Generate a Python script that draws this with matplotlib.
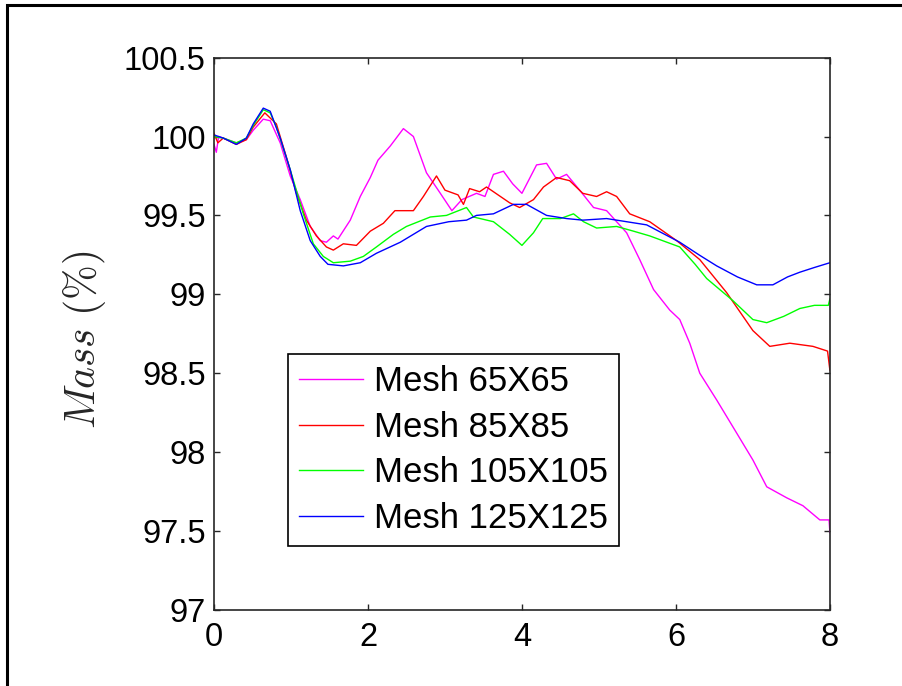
import matplotlib
matplotlib.use('Agg')
import matplotlib.pyplot as plt
from matplotlib.patches import Rectangle

plt.rcParams['font.family'] = ['Liberation Sans', 'DejaVu Sans']
plt.rcParams['mathtext.fontset'] = 'cm'

# Mass (%) over time for each mesh
t_65 = [0, 0.03, 0.06, 0.12, 0.29, 0.42, 0.51, 0.64, 0.73, 0.86, 0.99, 1.12, 1.25, 1.38, 1.46,
        1.55, 1.61, 1.77, 1.90, 2.03, 2.13, 2.29, 2.46, 2.59, 2.76, 2.94, 3.09, 3.22, 3.41, 3.52,
        3.63, 3.76, 3.88, 4.00, 4.19, 4.32, 4.45, 4.58, 4.75, 4.93, 5.10, 5.36, 5.53, 5.71, 5.92,
        6.05, 6.18, 6.31, 6.53, 6.79, 7.00, 7.18, 7.44, 7.65, 7.87, 7.99, 8.0]
m_65 = [99.95, 99.90, 100.0, 99.99, 99.96, 99.98, 100.04, 100.11, 100.10, 99.96, 99.75, 99.60, 99.43,
        99.34, 99.33, 99.37, 99.35, 99.47, 99.62, 99.74, 99.85, 99.94, 100.05, 100.0, 99.77, 99.64,
        99.53, 99.60, 99.64, 99.62, 99.76, 99.78, 99.70, 99.64, 99.82, 99.83, 99.73, 99.76, 99.66,
        99.55, 99.53, 99.39, 99.22, 99.03, 98.90, 98.84, 98.69, 98.50, 98.33, 98.12, 97.95, 97.78,
        97.71, 97.66, 97.57, 97.57, 97.49]

t_85 = [0, 0.05, 0.12, 0.29, 0.42, 0.51, 0.66, 0.81, 0.94, 1.07, 1.20, 1.33, 1.46, 1.55, 1.68,
        1.85, 2.03, 2.20, 2.35, 2.59, 2.72, 2.89, 3.00, 3.17, 3.24, 3.32, 3.45, 3.54, 3.63, 3.84,
        3.97, 4.15, 4.28, 4.45, 4.62, 4.79, 4.97, 5.10, 5.23, 5.40, 5.66, 6.01, 6.31, 6.66, 7.00,
        7.22, 7.48, 7.78, 7.97, 8.0]
m_85 = [100.02, 99.96, 99.99, 99.95, 99.98, 100.06, 100.15, 100.08, 99.87, 99.64, 99.47, 99.37,
        99.30, 99.28, 99.32, 99.31, 99.40, 99.45, 99.53, 99.53, 99.62, 99.75, 99.66, 99.63, 99.57,
        99.67, 99.65, 99.68, 99.65, 99.58, 99.55, 99.60, 99.68, 99.74, 99.72, 99.64, 99.62, 99.65,
        99.62, 99.51, 99.46, 99.34, 99.22, 99.01, 98.77, 98.67, 98.69, 98.67, 98.64, 98.52]

t_105 = [0, 0.12, 0.29, 0.42, 0.51, 0.64, 0.73, 0.81, 0.99, 1.16, 1.29, 1.42, 1.55, 1.77, 1.94,
         2.11, 2.33, 2.50, 2.81, 3.02, 3.28, 3.37, 3.63, 3.84, 4.00, 4.15, 4.27, 4.50, 4.67, 4.80,
         4.97, 5.23, 5.45, 5.66, 6.05, 6.25, 6.40, 6.74, 7.00, 7.18, 7.40, 7.61, 7.80, 7.98, 8.0]
m_105 = [100.0, 99.99, 99.96, 99.99, 100.07, 100.17, 100.15, 100.06, 99.79, 99.51, 99.32, 99.24,
         99.20, 99.21, 99.24, 99.30, 99.38, 99.43, 99.49, 99.50, 99.55, 99.49, 99.46, 99.38, 99.31,
         99.39, 99.48, 99.48, 99.51, 99.46, 99.42, 99.43, 99.40, 99.37, 99.30, 99.19, 99.10, 98.96,
         98.84, 98.82, 98.86, 98.91, 98.93, 98.93, 98.97]

t_125 = [0, 0.12, 0.29, 0.42, 0.51, 0.64, 0.73, 0.86, 0.99, 1.12, 1.25, 1.38, 1.48, 1.68, 1.90,
         2.11, 2.42, 2.76, 3.05, 3.28, 3.41, 3.63, 3.89, 4.06, 4.32, 4.58, 4.79, 5.10, 5.36, 5.62,
         6.05, 6.30, 6.53, 6.80, 7.05, 7.26, 7.45, 7.61, 7.80, 8.0]
m_125 = [100.01, 99.99, 99.95, 99.99, 100.08, 100.18, 100.16, 99.99, 99.79, 99.53, 99.34, 99.24,
         99.19, 99.18, 99.20, 99.26, 99.33, 99.43, 99.46, 99.47, 99.50, 99.51, 99.57, 99.57, 99.50,
         99.48, 99.47, 99.48, 99.46, 99.44, 99.33, 99.25, 99.18, 99.11, 99.06, 99.06, 99.11, 99.14,
         99.17, 99.20]

labels = ['Mesh 65X65', 'Mesh 85X85', 'Mesh 105X105', 'Mesh 125X125']
colors = ['#ff00ff', '#ff0000', '#00ff00', '#0000ff']

fig = plt.figure(figsize=(9.03, 6.86), dpi=100)
ax = fig.add_axes([0.237, 0.111, 0.682, 0.805])

series = [(t_65, m_65), (t_85, m_85), (t_105, m_105), (t_125, m_125)]
for (t, m), lab, c in zip(series, labels, colors):
    ax.plot(t, m, color=c, lw=1.0, label=lab)

ax.set_xlim(0, 8)
ax.set_ylim(97, 100.5)
ax.set_xticks([0, 2, 4, 6, 8])
ax.set_yticks([97, 97.5, 98, 98.5, 99, 99.5, 100, 100.5])
ax.set_yticklabels(['97', '97.5', '98', '98.5', '99', '99.5', '100', '100.5'])
ax.tick_params(direction='in', top=True, right=True, length=4.5, width=1,
               labelsize=23.5, color='#262626')
ax.tick_params(axis='x', pad=9)
ax.tick_params(axis='y', pad=6)
for s in ax.spines.values():
    s.set_color('#262626')
    s.set_linewidth(1.2)

ax.set_ylabel(r'$Mass\ \mathrm{(\%)}$', fontsize=30, color='#262626')
ax.yaxis.set_label_coords(-0.172, 0.49)

leg = ax.legend(loc='upper left', bbox_to_anchor=(0.12, 0.463), borderaxespad=0,
                fontsize=25, fancybox=False, framealpha=1, edgecolor='black',
                handlelength=1.85, handletextpad=0.3, labelspacing=0.36, borderpad=0.32)
leg.get_frame().set_linewidth(1.2)

# outer figure frame (only left and top edges fall inside the image)
fig.patches.append(Rectangle((0.0078, -0.1), 2, 1.0934, transform=fig.transFigure,
                             fill=False, edgecolor='black', lw=2.2, clip_on=False))

fig.savefig('out.png', dpi=100)
